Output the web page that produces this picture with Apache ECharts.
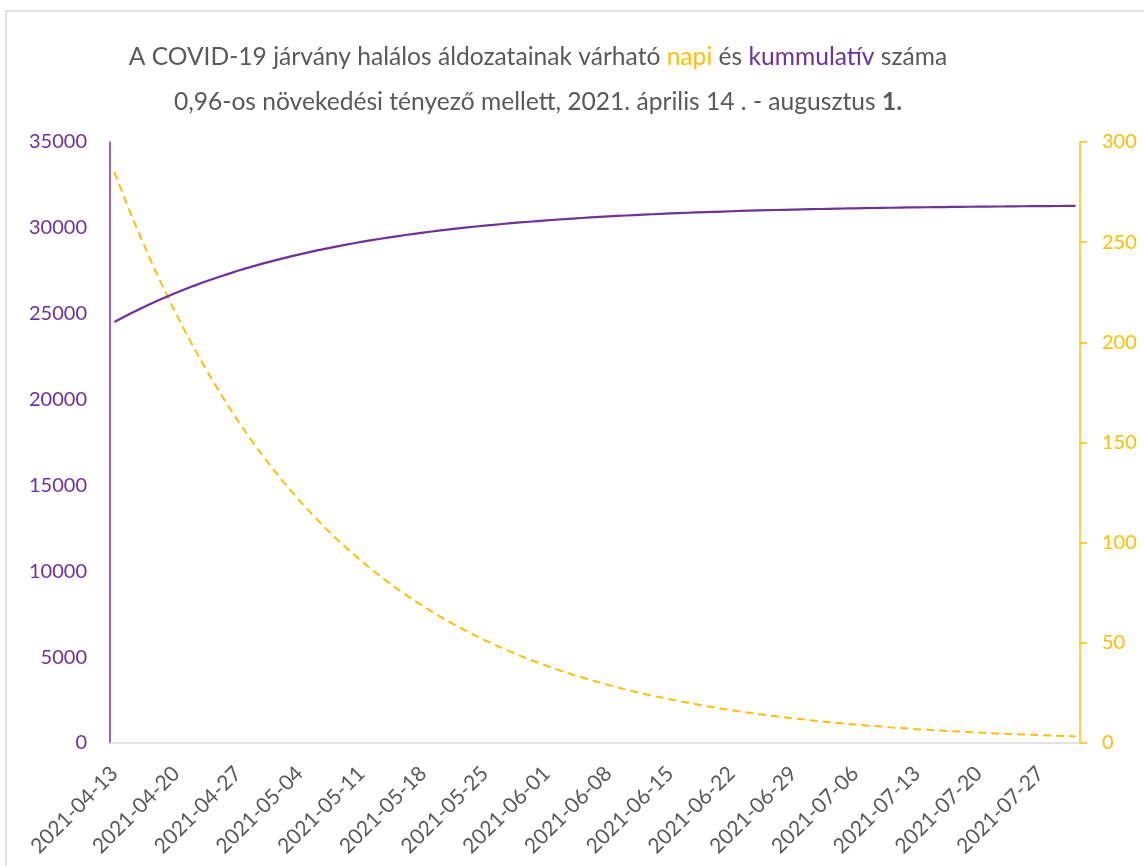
<!DOCTYPE html>
<html>
<head>
<meta charset="utf-8">
<script src="https://cdn.jsdelivr.net/npm/echarts@6/dist/echarts.min.js"></script>
<style>
html,body{margin:0;padding:0;background:#fff;}
#chart{width:1144px;height:866px;}
</style>
</head>
<body>
<div id="chart"></div>
<script>
const dates = [
"2021-04-13","2021-04-14","2021-04-15","2021-04-16","2021-04-17","2021-04-18","2021-04-19","2021-04-20","2021-04-21","2021-04-22",
"2021-04-23","2021-04-24","2021-04-25","2021-04-26","2021-04-27","2021-04-28","2021-04-29","2021-04-30","2021-05-01","2021-05-02",
"2021-05-03","2021-05-04","2021-05-05","2021-05-06","2021-05-07","2021-05-08","2021-05-09","2021-05-10","2021-05-11","2021-05-12",
"2021-05-13","2021-05-14","2021-05-15","2021-05-16","2021-05-17","2021-05-18","2021-05-19","2021-05-20","2021-05-21","2021-05-22",
"2021-05-23","2021-05-24","2021-05-25","2021-05-26","2021-05-27","2021-05-28","2021-05-29","2021-05-30","2021-05-31","2021-06-01",
"2021-06-02","2021-06-03","2021-06-04","2021-06-05","2021-06-06","2021-06-07","2021-06-08","2021-06-09","2021-06-10","2021-06-11",
"2021-06-12","2021-06-13","2021-06-14","2021-06-15","2021-06-16","2021-06-17","2021-06-18","2021-06-19","2021-06-20","2021-06-21",
"2021-06-22","2021-06-23","2021-06-24","2021-06-25","2021-06-26","2021-06-27","2021-06-28","2021-06-29","2021-06-30","2021-07-01",
"2021-07-02","2021-07-03","2021-07-04","2021-07-05","2021-07-06","2021-07-07","2021-07-08","2021-07-09","2021-07-10","2021-07-11",
"2021-07-12","2021-07-13","2021-07-14","2021-07-15","2021-07-16","2021-07-17","2021-07-18","2021-07-19","2021-07-20","2021-07-21",
"2021-07-22","2021-07-23","2021-07-24","2021-07-25","2021-07-26","2021-07-27","2021-07-28","2021-07-29","2021-07-30","2021-07-31"
];

// napi (daily) deaths - right axis
const napi = [
285.0,273.6,262.7,252.2,242.1,232.4,223.1,214.2,205.6,197.4,
189.5,181.9,174.6,167.6,160.9,154.5,148.3,142.4,136.7,131.2,
126.0,120.9,116.1,111.5,107.0,102.7,98.6,94.7,90.9,87.2,
83.8,80.4,77.2,74.1,71.1,68.3,65.6,62.9,60.4,58.0,
55.7,53.5,51.3,49.3,47.3,45.4,43.6,41.8,40.2,38.6,
37.0,35.5,34.1,32.8,31.4,30.2,29.0,27.8,26.7,25.6,
24.6,23.6,22.7,21.8,20.9,20.1,19.3,18.5,17.8,17.0,
16.4,15.7,15.1,14.5,13.9,13.3,12.8,12.3,11.8,11.3,
10.9,10.4,10.0,9.6,9.2,8.9,8.5,8.2,7.8,7.5,
7.2,6.9,6.7,6.4,6.1,5.9,5.7,5.4,5.2,5.0,
4.8,4.6,4.4,4.3,4.1,3.9,3.8,3.6,3.5,3.3
];

// kummulatív (cumulative) deaths - left axis
const kumm = [
24520,24794,25056,25309,25551,25783,26006,26220,26426,26623,
26813,26995,27169,27337,27498,27652,27801,27943,28080,28211,
28337,28458,28574,28685,28792,28895,28994,29088,29179,29267,
29350,29431,29508,29582,29653,29721,29787,29850,29910,29968,
30024,30078,30129,30178,30225,30271,30314,30356,30396,30435,
30472,30508,30542,30574,30606,30636,30665,30693,30720,30745,
30770,30793,30816,30838,30859,30879,30898,30917,30934,30951,
30968,30984,30999,31013,31027,31040,31053,31065,31077,31089,
31099,31110,31120,31129,31139,31148,31156,31164,31172,31180,
31187,31194,31200,31207,31213,31219,31224,31230,31235,31240,
31245,31249,31254,31258,31262,31266,31270,31274,31277,31280
];

const leftTicks = [0,5000,10000,15000,20000,25000,30000,35000];
const rightTicks = [0,50,100,150,200,250,300];

const PURPLE = '#7030A0';
const YELLOW = '#FFC000';
const GRAY = '#595959';
const FONT = 'Lato';

const chart = echarts.init(document.getElementById('chart'), null, {renderer:'canvas'});
chart.setOption({
  backgroundColor:'#fff',
  animation:false,
  textStyle:{fontFamily:FONT},
  title:{
    left:533, top:30, textAlign:'center',
    text:'{a|A COVID-19 járvány halálos áldozatainak várható }{y|napi}{a| és }{p|kummulatív}{a| száma}\n{a|0,96-os növekedési tényező mellett, 2021. április 14 . - augusztus }{b|1.}',
    textStyle:{
      fontWeight:'normal',
      rich:{
        a:{fontFamily:FONT,fontSize:24.6,fontWeight:'normal',color:GRAY,lineHeight:45},
        y:{fontFamily:FONT,fontSize:24.6,fontWeight:'normal',color:YELLOW,lineHeight:45},
        p:{fontFamily:FONT,fontSize:24.6,fontWeight:'normal',color:PURPLE,lineHeight:45},
        b:{fontFamily:FONT,fontSize:24.6,fontWeight:'bold',color:GRAY,lineHeight:45}
      }
    }
  },
  graphic:[{
    type:'rect', shape:{x:6,y:11,width:1200,height:900},
    style:{fill:'none',stroke:'#D9D9D9',lineWidth:1.5}, silent:true, z:-10
  }],
  grid:{left:110,right:64,top:142,bottom:123,containLabel:false},
  xAxis:{
    type:'category', data:dates, boundaryGap:true,
    axisLine:{show:true,lineStyle:{color:'#D9D9D9',width:1.5}},
    axisTick:{show:false},
    splitLine:{show:false},
    axisLabel:{interval:6,rotate:45,color:GRAY,fontSize:21,fontFamily:FONT,margin:27}
  },
  yAxis:[{
    type:'value', min:0, max:35000, interval:5000, position:'left',
    axisLine:{show:true,lineStyle:{color:PURPLE,width:1.5}},
    axisTick:{show:false},
    splitLine:{show:false},
    axisLabel:{color:PURPLE,fontSize:20,fontFamily:FONT,margin:23,formatter:function(v){return String(v);}}
  },{
    type:'value', min:0, max:300, interval:50, position:'right',
    axisLine:{show:true,lineStyle:{color:YELLOW,width:1.5}},
    axisTick:{show:true,length:7,inside:false,lineStyle:{color:YELLOW,width:1.5}},
    splitLine:{show:false},
    axisLabel:{color:YELLOW,fontSize:20,fontFamily:FONT,margin:22}
  }],
  series:[{
    name:'kummulatív', type:'line', yAxisIndex:0, data:kumm,
    symbol:'none', lineStyle:{color:PURPLE,width:2.2}, z:3
  },{
    name:'napi', type:'line', yAxisIndex:1, data:napi,
    symbol:'none', lineStyle:{color:YELLOW,width:2,type:[8,5]}, z:2
  }]
});
</script>
</body>
</html>
